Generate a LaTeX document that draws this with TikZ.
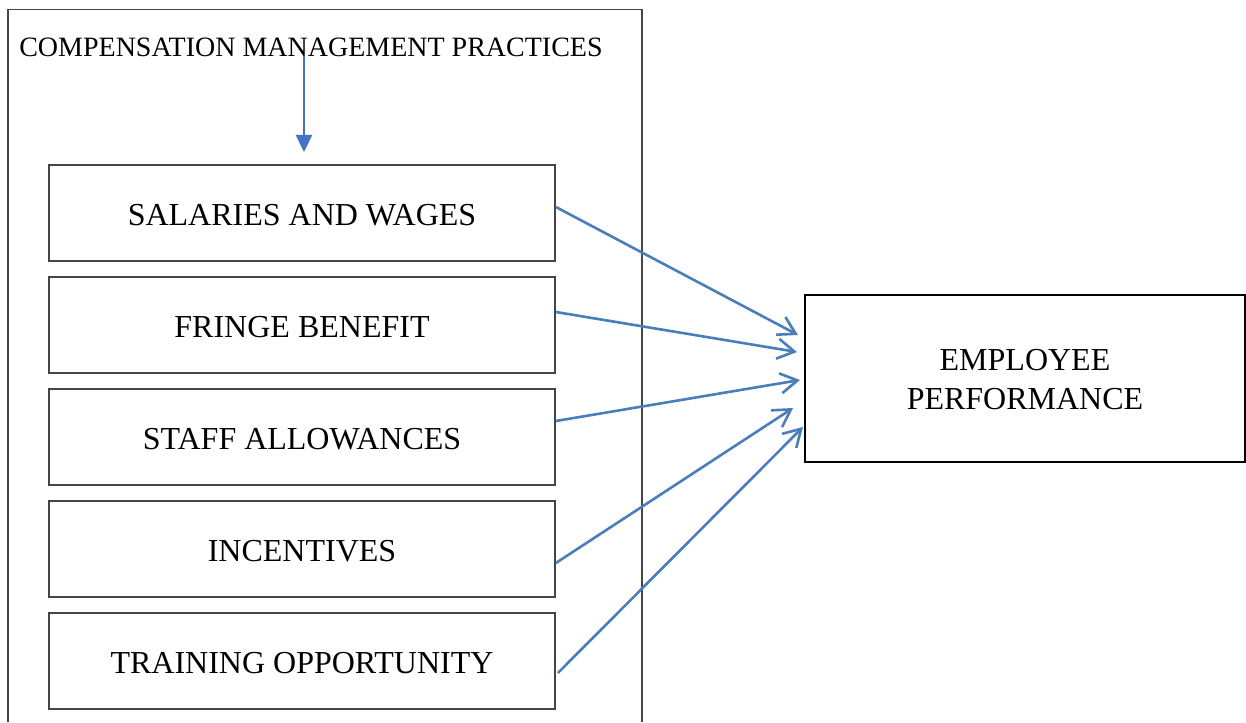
\documentclass[tikz,border=0pt]{standalone}
\usepackage{fontspec}
\setmainfont{Liberation Serif}
\usetikzlibrary{arrows.meta}
\definecolor{linkblue}{HTML}{4A7EBB}
\definecolor{headblue}{HTML}{4472C4}
\definecolor{frame}{HTML}{454545}
\begin{document}
\begin{tikzpicture}[x=1pt,y=-1pt,
  item/.style={draw=frame, line width=1.7pt, minimum width=506pt, minimum height=96pt,
    inner sep=0pt, text height=24pt, text depth=0pt, font=\fontsize{32}{38.5}\selectfont},
  link/.style={draw=linkblue, line width=2.6pt, -{Straight Barb[length=17pt,width=20pt,line width=2.6pt]}},
  feed/.style={draw=headblue, line width=2.4pt, -{Triangle[length=17pt,width=16pt]}}]
  \useasboundingbox (0,0) rectangle (1246,722);
  \fill[white] (0,0) rectangle (1246,722);

  % enclosing frame of the practices group (open at the bottom)
  \draw[frame, line width=1.7pt] (8,722) -- (8,9.5) -- (642,9.5) -- (642,722);

  \node[inner sep=0pt, font=\fontsize{28}{32}\selectfont, anchor=base] (title) at (311,56.5)
    {COMPENSATION MANAGEMENT PRACTICES};

  % practice boxes
  \node[item] (sal) at (302,213) {SALARIES AND WAGES};
  \node[item] (fri) at (302,325) {FRINGE BENEFIT};
  \node[item] (sta) at (302,437) {STAFF ALLOWANCES};
  \node[item] (inc) at (302,549) {INCENTIVES};
  \node[item] (tra) at (302,661) {TRAINING OPPORTUNITY};

  % outcome box
  \node[draw=black, line width=1.7pt, minimum width=440pt, minimum height=167pt] (emp) at (1025,378.5) {};
  \node[inner sep=0pt, align=center, font=\fontsize{32}{38.5}\selectfont] (empt) at (1025,379.5)
    {EMPLOYEE\\PERFORMANCE};

  % arrow ends
  \coordinate (g) at (304,152);
  \coordinate (t1) at (798,335);
  \coordinate (t2) at (797,352);
  \coordinate (t3) at (800,380);
  \coordinate (t4) at (793,408);
  \coordinate (t5) at (803,427);

  \draw[feed] ([xshift=-7pt]title.base) -- (g);

  \draw[link] ([yshift=6pt]sal.east) -- (t1);
  \draw[link] ([yshift=13pt]fri.east) -- (t2);
  \draw[link] ([yshift=16pt]sta.east) -- (t3);
  \draw[link] ([yshift=-14pt]inc.east) -- (t4);
  \draw[link] ([xshift=2pt,yshift=-12pt]tra.east) -- (t5);
\end{tikzpicture}
\end{document}
